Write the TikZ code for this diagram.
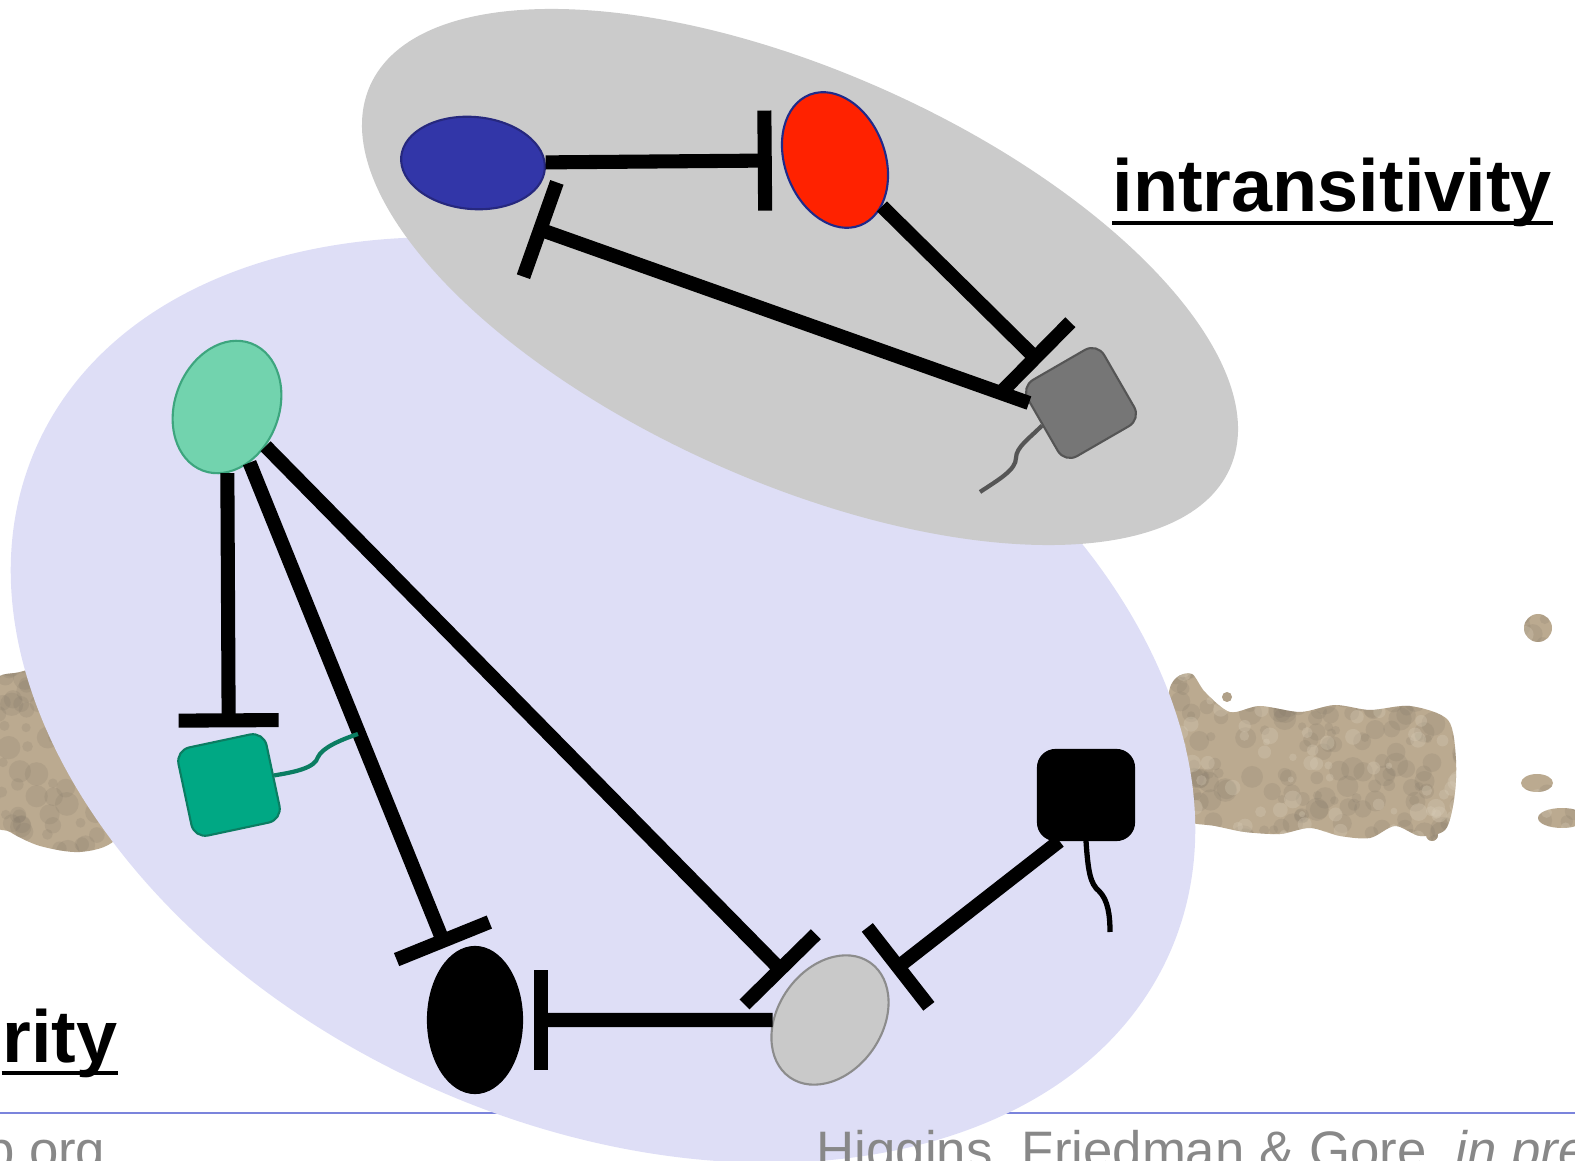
\documentclass[tikz,border=0pt]{standalone}
\usepackage{fontspec}
\setmainfont{Liberation Sans}
\usepackage{xcolor}
\usetikzlibrary{arrows.meta,shapes.geometric,calc}

\definecolor{lavender}{HTML}{DEDEF6}
\definecolor{cloud}{HTML}{CBCBCB}
\definecolor{rulecol}{HTML}{7B84DC}
\definecolor{footgray}{HTML}{888888}
\definecolor{bluecell}{HTML}{3236A8}
\definecolor{bluecelldark}{HTML}{26287E}
\definecolor{redcell}{HTML}{FF2200}
\definecolor{navyline}{HTML}{1F2A8A}
\definecolor{graycell}{HTML}{767676}
\definecolor{graycelldark}{HTML}{555555}
\definecolor{greencell}{HTML}{72D3AE}
\definecolor{greencelldark}{HTML}{3DA57E}
\definecolor{tealcell}{HTML}{00A884}
\definecolor{tealcelldark}{HTML}{0B7D62}
\definecolor{lgraycell}{HTML}{C9C9C9}
\definecolor{lgraycelldark}{HTML}{8C8C8C}
\definecolor{soil}{HTML}{BBAA90}
\definecolor{soildark}{HTML}{7F7566}
\definecolor{soillight}{HTML}{D8CDB8}

\begin{document}
\begin{tikzpicture}[
  x=0.01cm, y=-0.01cm,
  oval/.style={ellipse, draw, inner sep=0pt, line width=0.6pt},
  sq/.style={rectangle, rounded corners=4pt, draw, inner sep=0pt, line width=0.6pt},
  inhib/.style={-{Bar[width=1cm]}, line width=4pt, shorten >=3pt},
  tail/.style={line width=1.2pt},
  heading/.style={font=\bfseries\fontsize{21}{25}\selectfont, inner sep=0pt},
  footer/.style={font=\fontsize{15}{18}\selectfont, text=footgray, inner sep=0pt}
]

\useasboundingbox (0,0) rectangle (1575,1161);
\clip (0,0) rectangle (1575,1161);

% footer rule
\draw[rulecol, line width=0.6pt] (0,1113) -- (1575,1113);

% soil in the background
\begin{scope}
  \clip plot[smooth cycle] coordinates {(-10,690) (20,672) (60,668) (100,690) (130,730) (140,790) (115,840) (80,852) (40,846) (10,832) (-10,815)}
        plot[smooth cycle] coordinates {(1168,700) (1176,678) (1192,674) (1205,692) (1230,712) (1260,706) (1300,712) (1335,705) (1370,710) (1410,706) (1448,720) (1456,760) (1454,800) (1445,830) (1420,836) (1395,826) (1370,838) (1340,836) (1310,828) (1280,834) (1245,832) (1215,826) (1185,820) (1168,790)}
        (1538,628) circle[radius=14]
        (1537,783) ellipse[x radius=16, y radius=9]
        (1562,818) ellipse[x radius=24, y radius=10]
        (1227,697) circle[radius=5]
        (1432,835) circle[radius=6];
  \fill[soil] (-20,600) rectangle (1600,870);
  \pgfmathsetseed{42}
  \foreach \k in {1,...,90}{
    \pgfmathsetmacro{\sx}{-10+150*rnd}
    \pgfmathsetmacro{\sy}{665+190*rnd}
    \pgfmathsetmacro{\sr}{4+8*rnd}
    \fill[soildark, opacity=0.18] (\sx,\sy) circle[radius=\sr];
  }
  \foreach \k in {1,...,320}{
    \pgfmathsetmacro{\sx}{1160+420*rnd}
    \pgfmathsetmacro{\sy}{610+235*rnd}
    \pgfmathsetmacro{\sr}{4+8*rnd}
    \fill[soildark, opacity=0.18] (\sx,\sy) circle[radius=\sr];
  }
  \foreach \k in {1,...,160}{
    \pgfmathsetmacro{\sx}{1160+420*rnd}
    \pgfmathsetmacro{\sy}{610+235*rnd}
    \pgfmathsetmacro{\sr}{3+6*rnd}
    \fill[soillight, opacity=0.3] (\sx,\sy) circle[radius=\sr];
  }
\end{scope}

% the two groups
\fill[lavender, rotate around={-24.2:(603,700)}] (603,700) ellipse[x radius=620.6, y radius=423.9];
\fill[cloud, rotate around={-24:(800,277)}] (800,277) ellipse[x radius=470.6, y radius=205.4];

% cells
\node[oval, fill=bluecell, draw=bluecelldark, minimum width=1.44cm, minimum height=0.92cm, rotate=-5] (blue) at (473,163) {};
\node[oval, fill=redcell, draw=navyline, minimum width=1.40cm, minimum height=1.0cm, rotate=111] (red) at (835,160) {};
\node[sq, fill=graycell, draw=graycelldark, minimum size=0.88cm, rotate=30] (gsq) at (1081,403) {};
\node[oval, fill=greencell, draw=greencelldark, minimum width=1.36cm, minimum height=1.04cm, rotate=69] (green) at (227,407) {};
\node[sq, fill=tealcell, draw=tealcelldark, minimum size=0.90cm, rotate=12] (teal) at (229,785) {};
\node[oval, fill=black, minimum width=0.94cm, minimum height=1.46cm] (blk) at (475,1020) {};
\node[oval, fill=lgraycell, draw=lgraycelldark, minimum width=1.40cm, minimum height=1.04cm, rotate=55] (lgray) at (830,1020) {};
\node[sq, fill=black, minimum width=0.96cm, minimum height=0.90cm, rounded corners=5pt] (bsq) at (1086,795) {};

% inhibition
\draw[inhib] (blue) -- (red);
\draw[inhib] (red) -- (gsq);
\draw[inhib] (gsq.150) -- ($(blue.south east)+(2,23)$);
\draw[inhib] (green) -- (teal);
\draw[inhib] (green) -- (blk);
\draw[inhib] (green) -- (lgray);
\draw[inhib] (lgray) -- (blk);
\draw[inhib] (bsq.-120) -- (lgray);

% tails
\coordinate (gtail) at (980,492);
\coordinate (ttail) at (358,734);
\coordinate (btail) at (1110,932);
\draw[tail, graycelldark] (gsq.west) .. controls (1030,438) and (1016,447) .. (1016,458) .. controls (1016,470) and (998,480) .. (gtail);
\draw[tail, tealcelldark] (teal.east) .. controls (295,772) and (315,768) .. (318,757) .. controls (322,748) and (340,740) .. (ttail);
\draw[tail, line width=1.5pt] (bsq.south) .. controls (1088,870) and (1090,884) .. (1099,891) .. controls (1108,900) and (1110,915) .. (btail);

% headings
\node[heading, anchor=base west] (intr) at (1112,212) {intransitivity};
\draw[line width=1.2pt] ([yshift=-3.2pt]intr.base west) -- ([yshift=-3.2pt]intr.base east);
\node[heading, anchor=base east] (rity) at (118,1062) {rity};
\draw[line width=1.2pt] ([yshift=-3.2pt]rity.base west) -- ([yshift=-3.2pt]rity.base east);

% footer
\node[footer, anchor=base west] (cite) at (816,1168) {Higgins, Friedman \& Gore, \textit{in pre}};
\node[footer, anchor=base east] (site) at (106,1168) {p.org};

\end{tikzpicture}
\end{document}
